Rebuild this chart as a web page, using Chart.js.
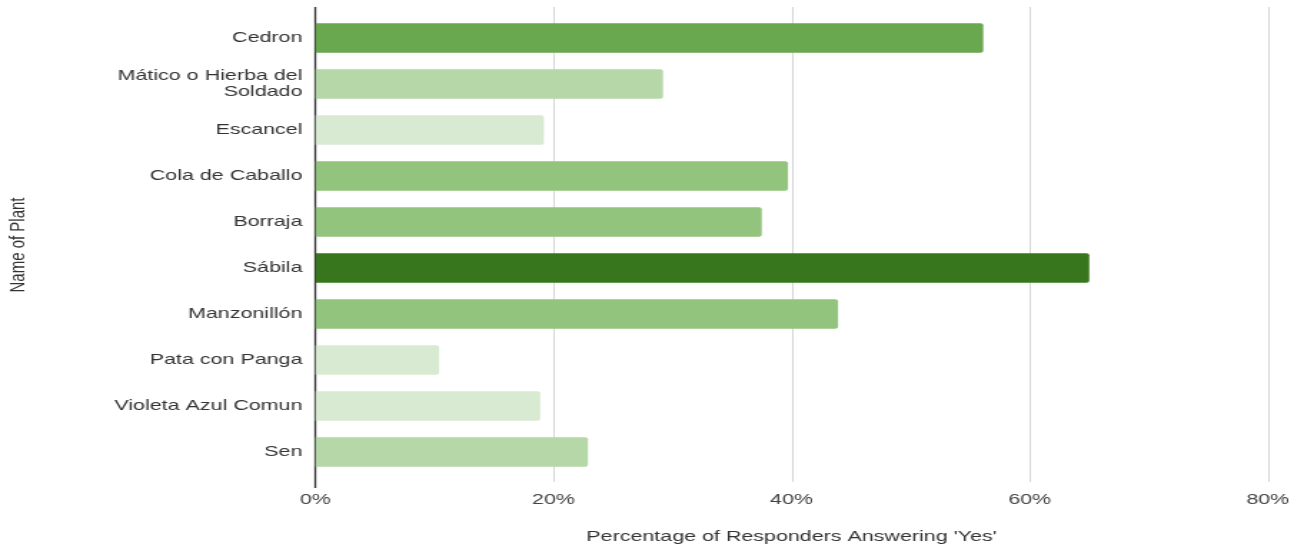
<!DOCTYPE html>
<html>
<head>
    <meta charset="utf-8" />
    <title>Name of Plant</title>
    <style>
        body {
            margin: 0;
            background: #fff;
        }
    </style>
</head>
<body>
    <!-- drawn narrow, shown wide -->
    <canvas id="chartCanvas" width="912" height="546" style="display:block;width:1304px;height:546px"></canvas>

<script src="https://cdn.jsdelivr.net/npm/chart.js@4/dist/chart.umd.min.js"></script>
<script>
    var plants = ['Cedron', ['Mático o Hierba del', 'Soldado'], 'Escancel', 'Cola de Caballo', 'Borraja',
        'Sábila', 'Manzonillón', 'Pata con Panga', 'Violeta Azul Comun', 'Sen'];
    var yesPercent = [56.1, 29.2, 19.2, 39.7, 37.5, 65.0, 43.9, 10.4, 18.9, 22.9];
    var barColors = ['#6aa84f', '#b6d7a8', '#d9ead3', '#93c47d', '#93c47d',
        '#38761d', '#93c47d', '#d9ead3', '#d9ead3', '#b6d7a8'];
    var xTickValues = [0, 20, 40, 60, 80];
    var xTickLabels = ['0%', '20%', '40%', '60%', '80%'];

    var fontFamily = '"Liberation Sans", Arial, sans-serif';

    // vertical grid lines, a bit taller than the plot area, under the bars
    var gridLines = {
        id: 'gridLines',
        beforeDatasetsDraw: function (chart) {
            var ctx = chart.ctx;
            var xs = chart.scales.x;
            var area = chart.chartArea;
            ctx.save();
            xs.ticks.forEach(function (t) {
                var px = xs.getPixelForValue(t.value);
                ctx.beginPath();
                if (t.value === 0) {
                    ctx.strokeStyle = '#333';
                    ctx.lineWidth = 1.3;
                    ctx.moveTo(px, area.top - 8);
                    ctx.lineTo(px, area.bottom + 13);
                } else {
                    ctx.strokeStyle = '#d6d6d6';
                    ctx.lineWidth = 1;
                    ctx.moveTo(Math.round(px) + 0.5, area.top - 8);
                    ctx.lineTo(Math.round(px) + 0.5, area.bottom + 7);
                }
                ctx.stroke();
            });
            ctx.restore();
        }
    };

    var canvas = document.getElementById('chartCanvas');
    var chart1 = new Chart(canvas.getContext('2d'), {
        type: 'bar',
        data: {
            labels: plants,
            datasets: [{
                data: yesPercent,
                backgroundColor: barColors,
                borderWidth: 0,
                borderRadius: 2,
                borderSkipped: 'start',
                categoryPercentage: 1,
                barPercentage: 0.64
            }]
        },
        options: {
            indexAxis: 'y',
            responsive: false,
            animation: false,
            layout: {
                padding: { top: 15, right: 25.3, bottom: 0, left: 0 }
            },
            plugins: {
                legend: { display: false },
                tooltip: { enabled: false }
            },
            scales: {
                x: {
                    type: 'linear',
                    min: 0,
                    max: 80,
                    afterBuildTicks: function (scale) {
                        scale.ticks = xTickValues.map(function (v) { return { value: v }; });
                    },
                    afterFit: function (scale) { scale.height = 71; },
                    grid: { display: false },
                    border: { display: false },
                    ticks: {
                        callback: function (value, index) { return xTickLabels[index]; },
                        color: '#444',
                        padding: 8,
                        font: { family: fontFamily, size: 15 }
                    },
                    title: {
                        display: true,
                        text: "Percentage of Responders Answering 'Yes'",
                        color: '#333',
                        padding: { top: 0, bottom: 0 },
                        font: { family: fontFamily, size: 15 }
                    }
                },
                y: {
                    offset: true,
                    afterFit: function (scale) { scale.width = 220.5; },
                    grid: { display: false },
                    border: { display: false },
                    ticks: {
                        autoSkip: false,
                        color: '#333',
                        padding: 1,
                        font: { family: fontFamily, size: 15, lineHeight: 1.07 }
                    },
                    title: {
                        display: true,
                        text: 'Name of Plant',
                        color: '#333',
                        padding: { top: 4, bottom: 0 },
                        font: { family: fontFamily, size: 15 }
                    }
                }
            }
        },
        plugins: [gridLines]
    });
    canvas.style.width = '1304px';
    canvas.style.height = '546px';
</script>
</body>
</html>
